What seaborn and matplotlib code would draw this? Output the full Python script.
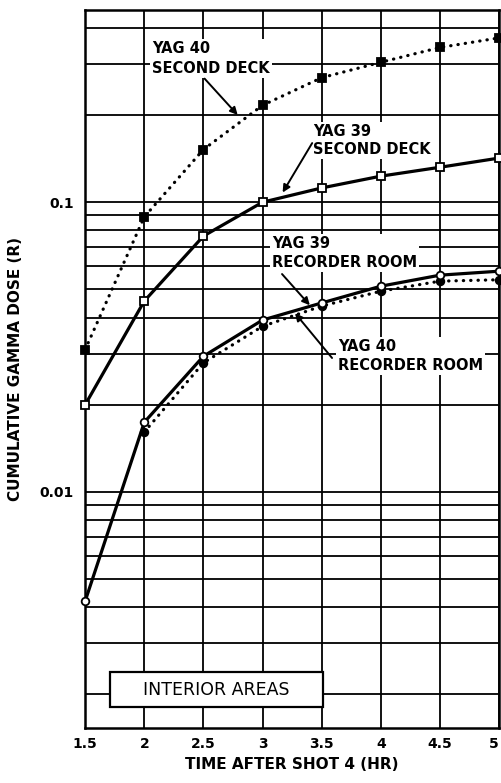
import numpy as np
import pandas as pd
import matplotlib
matplotlib.use('Agg')
import matplotlib.pyplot as plt
import seaborn as sns
from matplotlib.ticker import LogLocator, NullFormatter, FixedLocator
from matplotlib.patches import Rectangle

# values (dose in R)
hours = [1.5, 2.0, 2.5, 3.0, 3.5, 4.0, 4.5, 5.0]
yag40_deck = [0.031, 0.089, 0.152, 0.216, 0.269, 0.304, 0.342, 0.369]
yag39_deck = [0.020, 0.0456, 0.0764, 0.100, 0.112, 0.123, 0.132, 0.142]
yag39_room = [0.0042, 0.0174, 0.0294, 0.0392, 0.0449, 0.0513, 0.0560, 0.0578]
yag40_room = [np.nan, 0.0161, 0.0279, 0.0373, 0.0438, 0.0493, 0.0534, 0.0540]

x_ticks = [1.5, 2, 2.5, 3, 3.5, 4, 4.5, 5]
x_tick_labels = ['1.5', '2', '2.5', '3', '3.5', '4', '4.5', '5']
y_ticks = [0.01, 0.1]
y_tick_labels = ['0.01', '0.1']

data = pd.DataFrame({'hours': hours,
                     'yag40_deck': yag40_deck,
                     'yag39_deck': yag39_deck,
                     'yag39_room': yag39_room,
                     'yag40_room': yag40_room})

sns.set_style('white')
plt.rcParams['font.family'] = ['DejaVu Sans']
plt.rcParams['text.color'] = 'black'
plt.rcParams['axes.labelcolor'] = 'black'
plt.rcParams['xtick.color'] = 'black'
plt.rcParams['ytick.color'] = 'black'

fig = plt.figure(figsize=(5.01, 7.83), dpi=100)
ax = fig.add_axes([0.170, 0.070, 0.826, 0.917])

dotted = (0, (0.1, 2.2))
line_kw = dict(color='black', lw=2.3, markersize=5.5, markeredgecolor='black',
               markeredgewidth=1.3, zorder=5, clip_on=False)

sns.lineplot(data=data, x='hours', y='yag40_deck', ax=ax, marker='s',
             markerfacecolor='black', linestyle=dotted, dash_capstyle='round',
             **line_kw)
sns.lineplot(data=data, x='hours', y='yag39_deck', ax=ax, marker='s',
             markerfacecolor='white', **line_kw)
sns.lineplot(data=data, x='hours', y='yag40_room', ax=ax, marker='o',
             markerfacecolor='black', linestyle=dotted, dash_capstyle='round',
             **line_kw)
sns.lineplot(data=data, x='hours', y='yag39_room', ax=ax, marker='o',
             markerfacecolor='white', **line_kw)

ax.set_yscale('log')
ax.set_xlim(1.5, 5)
ax.set_ylim(0.00153, 0.46)

ax.xaxis.set_major_locator(FixedLocator(x_ticks))
ax.set_xticklabels(x_tick_labels)
ax.set_yticks(y_ticks)
ax.set_yticklabels(y_tick_labels)
ax.yaxis.set_minor_locator(LogLocator(base=10, subs=np.arange(2, 10)))
ax.yaxis.set_minor_formatter(NullFormatter())

ax.grid(True, which='both', axis='y', color='black', lw=1.3)
ax.grid(True, which='major', axis='x', color='black', lw=1.3)
ax.set_axisbelow(True)

ax.tick_params(axis='both', which='both', length=0)
ax.tick_params(axis='x', pad=6, labelsize=10)
ax.tick_params(axis='y', pad=8, labelsize=10)
for lab in ax.get_xticklabels() + ax.get_yticklabels():
    lab.set_fontweight('bold')
# keep the last x label inside the picture
ax.get_xticklabels()[-1].set_horizontalalignment('right')

for sp in ax.spines.values():
    sp.set_color('black')
    sp.set_linewidth(1.8)

ax.set_xlabel('TIME AFTER SHOT 4 (HR)', fontsize=11, fontweight='bold')
ax.set_ylabel('CUMULATIVE GAMMA DOSE (R)', fontsize=11, fontweight='bold')
ax.xaxis.set_label_coords(0.5, -0.040)
ax.yaxis.set_label_coords(-0.150, 0.50)

# curve labels with white boxes over the grid
box = dict(facecolor='white', edgecolor='none', pad=1.5)
labels = [('YAG 40\nSECOND DECK', 2.067, 0.314, 1.40),
          ('YAG 39\nSECOND DECK', 3.427, 0.163, 1.25),
          ('YAG 39\nRECORDER ROOM', 3.080, 0.0667, 1.35),
          ('YAG 40\nRECORDER ROOM', 3.640, 0.0294, 1.35)]
for txt, tx, ty, ls in labels:
    ax.text(tx, ty, txt, ha='left', va='center', fontsize=10.5, fontweight='bold',
            linespacing=ls, bbox=box, zorder=3)

arrows = [((2.51, 0.267), (2.79, 0.200)),
          ((3.42, 0.160), (3.17, 0.108)),
          ((3.165, 0.0565), (3.40, 0.0441)),
          ((3.588, 0.0290), (3.275, 0.0414))]
for tail, head in arrows:
    ax.annotate('', xy=head, xytext=tail,
                arrowprops=dict(arrowstyle='-|>', color='black', lw=1.4,
                                mutation_scale=11, shrinkA=0, shrinkB=0),
                zorder=4)

ax.add_patch(Rectangle((0.060, 0.029), 0.515, 0.049, transform=ax.transAxes,
                       facecolor='white', edgecolor='black', lw=1.6, zorder=3))
ax.text(0.3175, 0.0535, 'INTERIOR AREAS', transform=ax.transAxes,
        ha='center', va='center', fontsize=12.5, zorder=4)

fig.savefig('out.png', dpi=100)
